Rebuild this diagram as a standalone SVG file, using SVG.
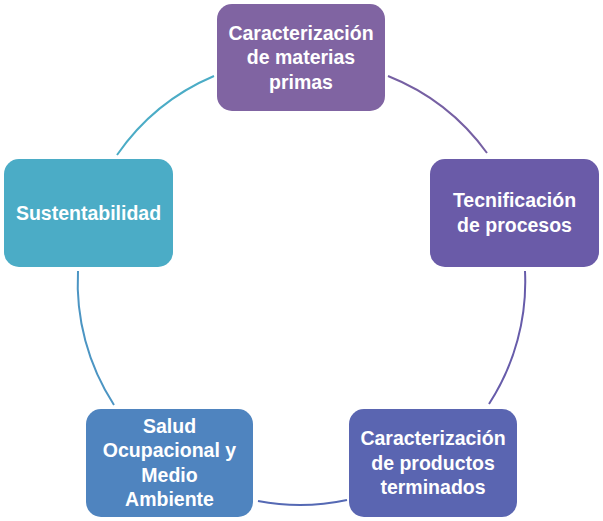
<svg xmlns="http://www.w3.org/2000/svg" width="603" height="521" viewBox="0 0 603 521">
<style>
.box{stroke:none}
.t{font-family:"Liberation Sans",Arial,sans-serif;font-weight:bold;font-size:19.5px;fill:#ffffff;text-anchor:middle}
.arc{fill:none;stroke-width:2}
</style>
<rect width="603" height="521" fill="#ffffff"/>
<g id="connectors">
<path class="arc" stroke="#7660A3" d="M388,76 A224,224 0 0 1 487,153"/>
<path class="arc" stroke="#675CAA" d="M525,271 A224,224 0 0 1 489,404"/>
<path class="arc" stroke="#5569B4" d="M347,500 A224,224 0 0 1 258,501"/>
<path class="arc" stroke="#4C95C3" d="M114,405 A224,224 0 0 1 78,271"/>
<path class="arc" stroke="#4BACC6" d="M117,155 A224,224 0 0 1 214,76"/>
</g>
<g id="node1">
<rect class="box" x="217" y="4" width="168" height="107" rx="15" fill="#8064A2"/>
<text class="t" x="301" y="39.5">Caracterización</text>
<text class="t" x="301" y="64">de materias</text>
<text class="t" x="301" y="88.5">primas</text>
</g>
<g id="node2">
<rect class="box" x="430" y="159" width="169" height="108" rx="15" fill="#6A5BA8"/>
<text class="t" x="514.5" y="207">Tecnificación</text>
<text class="t" x="514.5" y="231.5">de procesos</text>
</g>
<g id="node3">
<rect class="box" x="349" y="409" width="168" height="108" rx="15" fill="#5A65B1"/>
<text class="t" x="433" y="445">Caracterización</text>
<text class="t" x="433" y="469.5">de productos</text>
<text class="t" x="433" y="494">terminados</text>
</g>
<g id="node4">
<rect class="box" x="86" y="409" width="167" height="108" rx="15" fill="#4F84BF"/>
<text class="t" x="169.5" y="432.5">Salud</text>
<text class="t" x="169.5" y="457">Ocupacional y</text>
<text class="t" x="169.5" y="481.5">Medio</text>
<text class="t" x="169.5" y="506">Ambiente</text>
</g>
<g id="node5">
<rect class="box" x="4" y="159" width="169" height="108" rx="15" fill="#4BACC6"/>
<text class="t" x="88.5" y="219.5">Sustentabilidad</text>
</g>
</svg>
